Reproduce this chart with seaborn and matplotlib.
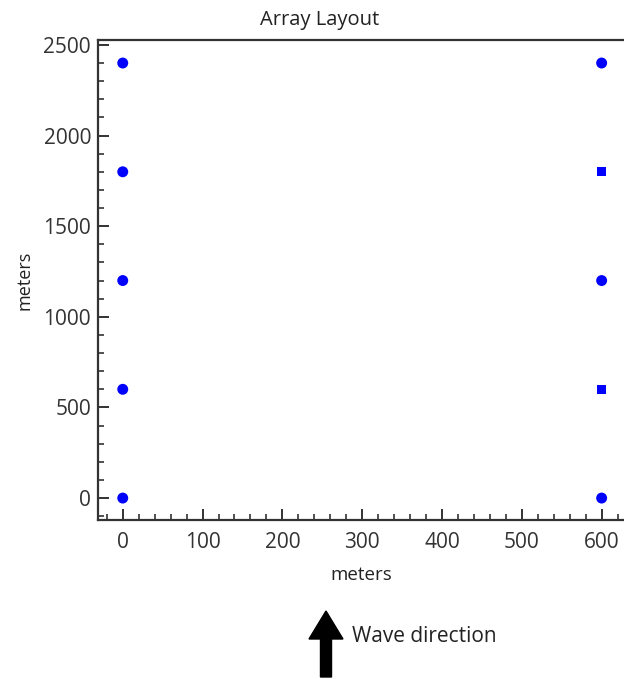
import matplotlib
matplotlib.use("Agg")
import matplotlib.pyplot as plt
import seaborn as sns
import pandas as pd
from matplotlib.patches import FancyArrow
from matplotlib.ticker import MultipleLocator

# Device positions (meters)
x_pos = [0, 0, 0, 0, 0, 600, 600, 600, 600, 600]
y_pos = [0, 600, 1200, 1800, 2400, 0, 600, 1200, 1800, 2400]
shape = ["circle", "circle", "circle", "circle", "circle",
         "circle", "square", "circle", "square", "circle"]

df = pd.DataFrame({"x": x_pos, "y": y_pos, "shape": shape})

sns.set_style("white")
plt.rcParams['font.family'] = ['Open Sans', 'DejaVu Sans']

fig = plt.figure(figsize=(6.24, 6.79), dpi=100)
ax = fig.add_axes([98 / 624, 159 / 679, 1 - 98 / 624, 480 / 679])

sns.scatterplot(data=df, x="x", y="y", style="shape", size="shape",
                markers={"circle": "o", "square": "s"},
                sizes={"circle": 62, "square": 40},
                color="#0000ff", edgecolor="none", linewidth=0,
                legend=False, ax=ax)

ax.set_xlim(-31, 628)
ax.set_ylim(-121, 2527)
ax.xaxis.set_major_locator(MultipleLocator(100))
ax.xaxis.set_minor_locator(MultipleLocator(20))
ax.yaxis.set_major_locator(MultipleLocator(500))
ax.yaxis.set_minor_locator(MultipleLocator(100))
ax.tick_params(which="both", direction="in", bottom=True, left=True,
               top=False, right=False, color="#222222", labelsize=15,
               labelcolor="#333333")
ax.tick_params(axis="x", pad=9)
ax.tick_params(axis="y", pad=5)
ax.tick_params(which="major", length=8, width=1.3)
ax.tick_params(which="minor", length=4, width=1.1)

for side in ["left", "bottom", "top"]:
    ax.spines[side].set_color("#333333")
    ax.spines[side].set_linewidth(1.6)
ax.spines["right"].set_visible(False)

ax.set_xlabel("meters", fontsize=13.5, color="#222222", labelpad=9)
ax.set_ylabel("meters", fontsize=13, color="#222222", labelpad=7)
ax.set_title("Array Layout", fontsize=14.5, color="#222222", pad=11,
             x=(320 - 98) / 526)

# wave direction arrow
fig.patches.append(FancyArrow(326 / 624, 1 - 677 / 679, 0, 66 / 679,
                              width=11 / 624, head_width=34 / 624,
                              head_length=28 / 679, length_includes_head=True,
                              color="black", transform=fig.transFigure))
fig.text(352 / 624, 1 - 636 / 679, "Wave direction", fontsize=15,
         color="#222222", va="center", ha="left")

fig.savefig("out.png", dpi=100)
